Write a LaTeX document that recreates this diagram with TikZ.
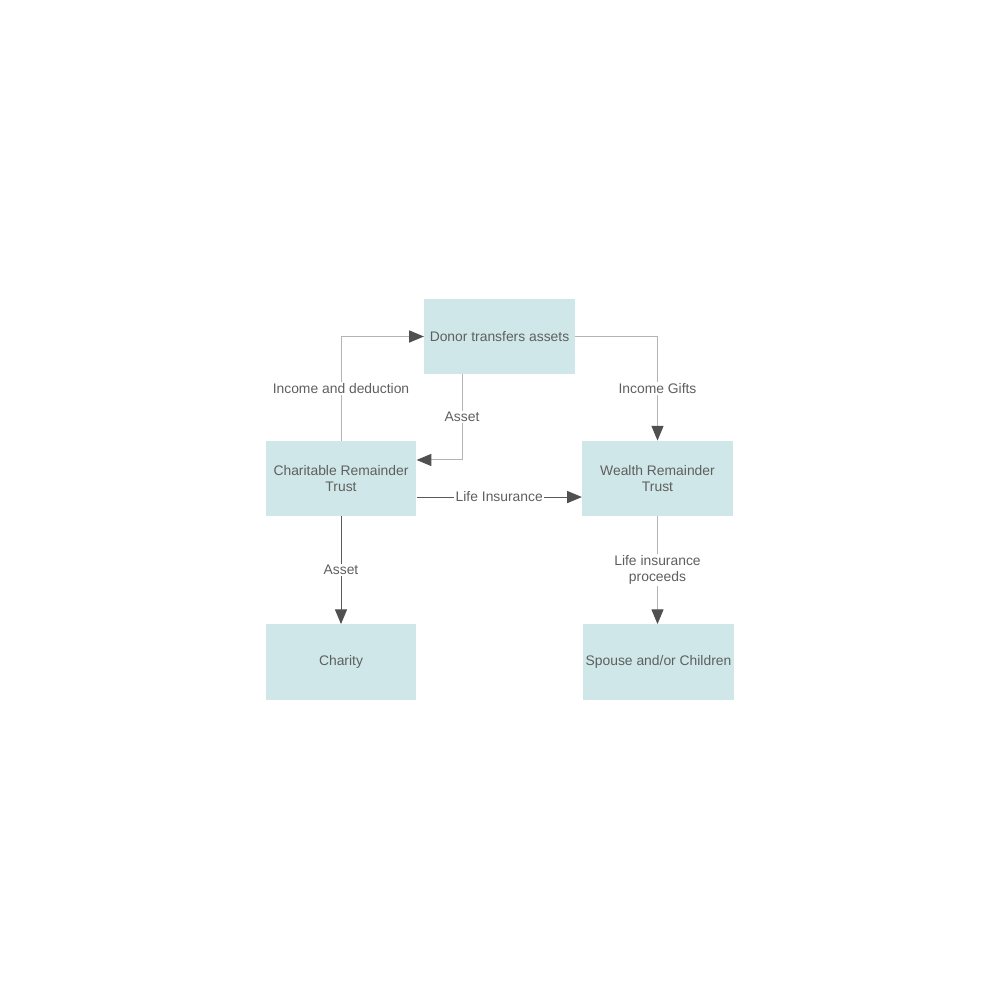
\documentclass[tikz,border=0pt]{standalone}
\usepackage{fontspec}
\setmainfont{Liberation Sans}
\usetikzlibrary{arrows.meta}
\definecolor{boxcol}{RGB}{207,231,232}
\definecolor{linelt}{RGB}{180,180,180}
\definecolor{linedk}{RGB}{90,90,90}
\definecolor{tipcol}{RGB}{80,80,80}
\definecolor{txtcol}{RGB}{95,95,95}

\begin{document}
\begin{tikzpicture}[
  x=0.75pt, y=-0.75pt,
  >={Triangle[length=11pt, width=9pt, color=tipcol]},
  trust/.style = {fill=boxcol, align=center, text=txtcol, inner sep=2pt,
                  minimum width=113pt, minimum height=56.5pt,
                  font=\fontsize{10.4}{12}\selectfont},
  lite/.style  = {->, draw=linelt, line width=0.75pt},
  dark/.style  = {->, draw=linedk, line width=0.75pt},
  elbl/.style  = {fill=white, text=txtcol, inner sep=1pt, align=center,
                  font=\fontsize{10.4}{12}\selectfont},
]
\fill[white] (0,0) rectangle (1000,1000);
\useasboundingbox (0,0) rectangle (1000,1000);

% ---------- boxes ----------
\node[trust] (donor)   at (499.5,336.5) {Donor transfers assets};
\node[trust] (crt)     at (341,478.5)   {Charitable Remainder\\Trust};
\node[trust] (wrt)     at (657.5,478.5) {Wealth Remainder\\Trust};
\node[trust] (charity) at (341,662)     {Charity};
\node[trust] (spouse)  at (658.5,662)   {Spouse and/or Children};

% ---------- flows ----------
\draw[lite] (crt.north) |- (donor.west)
            node[elbl,pos=0.25]{Income and deduction};
\draw[lite] ([xshift=-28.1pt]donor.south) |- ([yshift=13.9pt]crt.east)
            node[elbl,pos=0.25]{Asset};
\draw[lite] (donor.east) -| (wrt.north)
            node[elbl,pos=0.75]{Income Gifts};
\draw[dark] ([yshift=-13.9pt]crt.east) -- ([yshift=-13.9pt]wrt.west)
            node[elbl,pos=0.5]{Life Insurance};
\draw[dark] (crt.south) -- (charity.north)
            node[elbl,pos=0.5]{Asset};
\draw[lite] (wrt.south) -- (wrt.south |- spouse.north)
            node[elbl,pos=0.5]{Life insurance\\proceeds};

\end{tikzpicture}
\end{document}
